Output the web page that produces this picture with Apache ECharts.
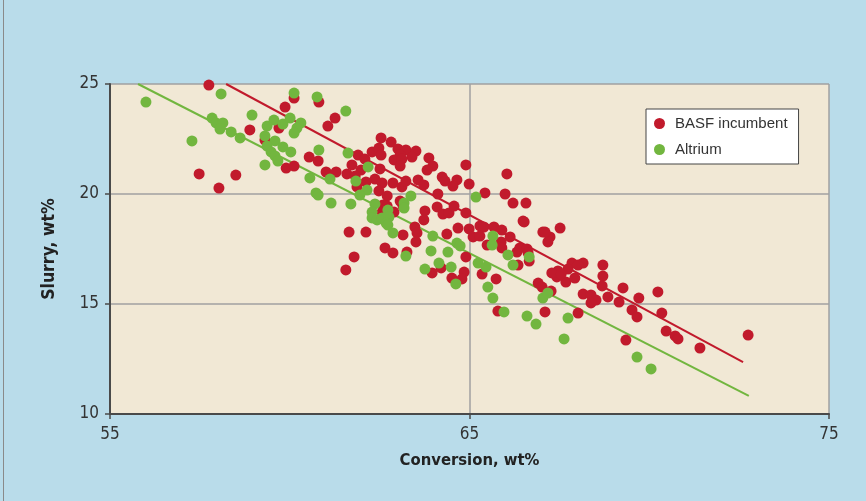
<!DOCTYPE html>
<html>
<head>
<meta charset="utf-8">
<script src="https://cdn.jsdelivr.net/npm/echarts@6/dist/echarts.min.js"></script>
<style>
html,body{margin:0;padding:0;background:#b9dcea;}
#c{width:866px;height:501px;}
</style>
</head>
<body>
<div id="c"></div>
<script>
// Axis ticks
const xTicks = [55, 65, 75];
const yTicks = [10, 15, 20, 25];

// BASF incumbent: [conversion wt%, slurry wt%]
const basfPoints = [
[57.75,24.95],[57.48,20.91],[58.03,20.27],[58.50,20.86],[58.89,22.91],[59.31,22.45],[59.87,23.95],[60.12,24.36],
[60.81,24.18],[61.26,23.45],[61.06,23.09],[59.70,23.00],[60.54,21.68],[60.79,21.50],[59.90,21.18],[60.12,21.27],
[61.01,21.00],[61.29,21.00],[61.59,20.91],[61.90,21.77],[62.09,21.59],[61.73,21.32],[61.98,21.09],[62.29,21.91],
[62.48,22.09],[62.54,22.55],[62.82,22.36],[62.54,21.77],[62.51,21.14],[62.37,20.68],[62.12,20.55],[61.87,20.32],
[62.57,20.50],[62.48,20.14],[62.71,19.91],[62.59,19.50],[61.82,20.82],[63.01,22.05],[63.23,22.00],[63.07,21.77],
[63.51,21.95],[63.40,21.68],[62.90,21.55],[63.12,21.59],[63.07,21.27],[63.87,21.64],[63.98,21.27],[63.82,21.09],
[62.87,20.50],[63.12,20.32],[63.23,20.59],[63.57,20.64],[63.73,20.41],[64.12,20.00],[64.24,20.77],[64.32,20.59],
[64.65,20.64],[64.54,20.36],[64.90,21.32],[64.99,20.45],[65.43,20.05],[65.99,20.00],[66.04,20.91],[66.21,19.59],
[66.57,19.59],[66.49,18.77],[64.10,19.41],[64.26,19.09],[64.43,19.14],[64.57,19.45],[64.90,19.14],[63.76,19.23],
[63.73,18.82],[63.07,19.68],[63.15,19.45],[62.71,19.45],[62.57,19.18],[62.65,19.09],[62.90,19.18],[63.48,18.50],
[63.54,18.23],[63.51,17.82],[63.15,18.14],[62.65,17.55],[62.87,17.32],[63.26,17.36],[61.65,18.27],[62.12,18.27],
[61.79,17.14],[61.56,16.55],[64.37,18.18],[64.68,18.45],[64.99,18.41],[65.10,18.05],[65.29,18.55],[65.40,18.50],
[65.29,18.09],[65.68,18.50],[65.90,18.36],[66.13,18.05],[65.49,17.68],[65.88,17.82],[65.90,17.55],[66.32,17.36],
[66.40,17.55],[66.60,17.50],[66.63,17.32],[66.66,16.95],[66.35,16.77],[67.04,18.27],[67.24,18.05],[67.18,17.82],
[64.90,17.14],[64.85,16.45],[64.21,16.64],[63.96,16.41],[64.51,16.18],[64.79,16.14],[65.35,16.36],[65.74,16.14],
[65.79,14.68],[67.10,14.64],[66.91,15.95],[67.02,15.77],[67.27,15.59],[66.52,18.73],[67.52,18.45],[67.85,16.86],
[68.16,16.86],[68.02,16.77],[68.71,16.77],[67.74,16.59],[67.46,16.50],[67.43,16.23],[67.68,16.00],[67.93,16.18],
[68.71,16.27],[68.69,15.82],[68.16,15.45],[68.38,15.41],[68.52,15.18],[68.38,15.05],[68.85,15.32],[69.27,15.73],
[69.16,15.09],[69.71,15.27],[70.24,15.55],[69.52,14.73],[69.66,14.41],[70.35,14.59],[68.02,14.59],[70.47,13.77],
[70.72,13.55],[70.80,13.41],[69.35,13.36],[71.41,13.00],[72.75,13.59],[67.29,16.41],[67.55,16.36],[67.10,18.27]
];

// Altrium: [conversion wt%, slurry wt%]
const altriumPoints = [
[56.00,24.18],[58.09,24.55],[57.28,22.41],[57.84,23.45],[57.95,23.23],[58.14,23.23],[58.06,22.95],[58.37,22.82],
[58.62,22.55],[58.95,23.59],[59.37,23.09],[59.56,23.36],[59.81,23.18],[60.01,23.45],[60.12,24.59],[60.76,24.41],
[60.31,23.23],[60.20,23.00],[60.12,22.77],[59.31,22.64],[59.59,22.41],[59.37,22.18],[59.48,21.91],[59.59,21.73],
[59.67,21.50],[59.81,22.14],[60.03,21.91],[60.81,22.00],[59.31,21.32],[61.56,23.77],[61.62,21.86],[60.56,20.73],
[61.12,20.68],[60.73,20.05],[60.79,19.95],[61.15,19.59],[61.70,19.55],[62.18,21.23],[61.84,20.59],[62.15,20.18],
[61.95,19.95],[62.37,19.55],[62.29,19.18],[62.29,18.91],[62.43,18.82],[62.57,18.91],[62.73,19.27],[62.76,18.95],
[62.68,18.68],[62.73,18.59],[62.87,18.23],[63.18,19.59],[63.18,19.36],[63.37,19.91],[65.18,19.86],[63.98,18.09],
[64.65,17.77],[64.74,17.64],[63.93,17.41],[64.40,17.36],[63.23,17.18],[64.15,16.86],[64.49,16.68],[63.76,16.59],
[64.62,15.91],[65.24,16.86],[65.46,16.68],[65.65,18.09],[65.63,17.68],[66.07,17.23],[66.21,16.77],[66.66,17.14],
[65.51,15.77],[65.65,15.27],[65.96,14.64],[66.60,14.45],[66.85,14.09],[67.04,15.27],[67.18,15.50],[67.74,14.36],
[67.63,13.41],[69.66,12.59],[70.05,12.05]
];

// Trend line end points
const basfTrend = [[58.23,25.0],[72.61,12.36]];
const altriumTrend = [[55.78,25.0],[72.77,10.82]];

const RED = '#c11a2c';
const GREEN = '#72b63f';
const FONT = '"DejaVu Sans Condensed","Liberation Sans",sans-serif';

const chart = echarts.init(document.getElementById('c'), null, {renderer:'canvas'});
chart.setOption({
  backgroundColor: '#b9dcea',
  animation: false,
  graphic: [{
    type: 'line', shape: {x1: 3.5, y1: 0, x2: 3.5, y2: 501},
    style: {stroke: '#8a8a8a', lineWidth: 1}
  }],
  grid: {left: 110, top: 84, right: 37, bottom: 87, show: true,
         backgroundColor: '#f1e8d5', borderWidth: 0},
  legend: {
    data: ['BASF incumbent', 'Altrium'],
    orient: 'vertical', left: 646, top: 109,
    backgroundColor: '#ffffff', borderColor: '#444', borderWidth: 1,
    padding: [7, 11, 7, 8], itemGap: 11, itemWidth: 15, itemHeight: 11,
    icon: 'circle',
    textStyle: {fontFamily: '"Liberation Sans",sans-serif', fontSize: 15, color: '#333', padding: [0, 0, 0, 3]}
  },
  xAxis: {
    type: 'value', min: xTicks[0], max: xTicks[xTicks.length-1], interval: 10,
    name: 'Conversion, wt%', nameLocation: 'middle', nameGap: 38,
    nameTextStyle: {fontFamily: FONT, fontWeight: 'bold', fontSize: 16.5, color: '#222'},
    axisLine: {lineStyle: {color: '#4a4a4a', width: 2}},
    axisTick: {show: true, inside: false, length: 5, lineStyle: {color: '#4a4a4a', width: 1.5}},
    axisLabel: {fontFamily: FONT, fontSize: 17, color: '#333', margin: 12},
    splitLine: {show: true, lineStyle: {color: '#a0a0a0', width: 1.5}}
  },
  yAxis: {
    type: 'value', min: yTicks[0], max: yTicks[yTicks.length-1], interval: 5,
    name: 'Slurry, wt%', nameLocation: 'middle', nameGap: 52, nameRotate: 90,
    nameTextStyle: {fontFamily: FONT, fontWeight: 'bold', fontSize: 17.5, color: '#222'},
    axisLine: {show: true, lineStyle: {color: '#4a4a4a', width: 2}},
    axisTick: {show: true, inside: false, length: 5, lineStyle: {color: '#4a4a4a', width: 1.5}},
    axisLabel: {fontFamily: FONT, fontSize: 17, color: '#333', margin: 11},
    splitLine: {show: true, lineStyle: {color: '#a0a0a0', width: 1.5}}
  },
  series: [
    {name: 'BASF trend', type: 'line', data: basfTrend, symbol: 'none', z: 1,
     lineStyle: {color: RED, width: 2}, silent: true},
    {name: 'Altrium trend', type: 'line', data: altriumTrend, symbol: 'none', z: 1,
     lineStyle: {color: GREEN, width: 2}, silent: true},
    {name: 'BASF incumbent', type: 'scatter', data: basfPoints, symbolSize: 11, z: 3,
     itemStyle: {color: RED, opacity: 1}},
    {name: 'Altrium', type: 'scatter', data: altriumPoints, symbolSize: 11, z: 4,
     itemStyle: {color: GREEN, opacity: 1}}
  ]
});
</script>
</body>
</html>
